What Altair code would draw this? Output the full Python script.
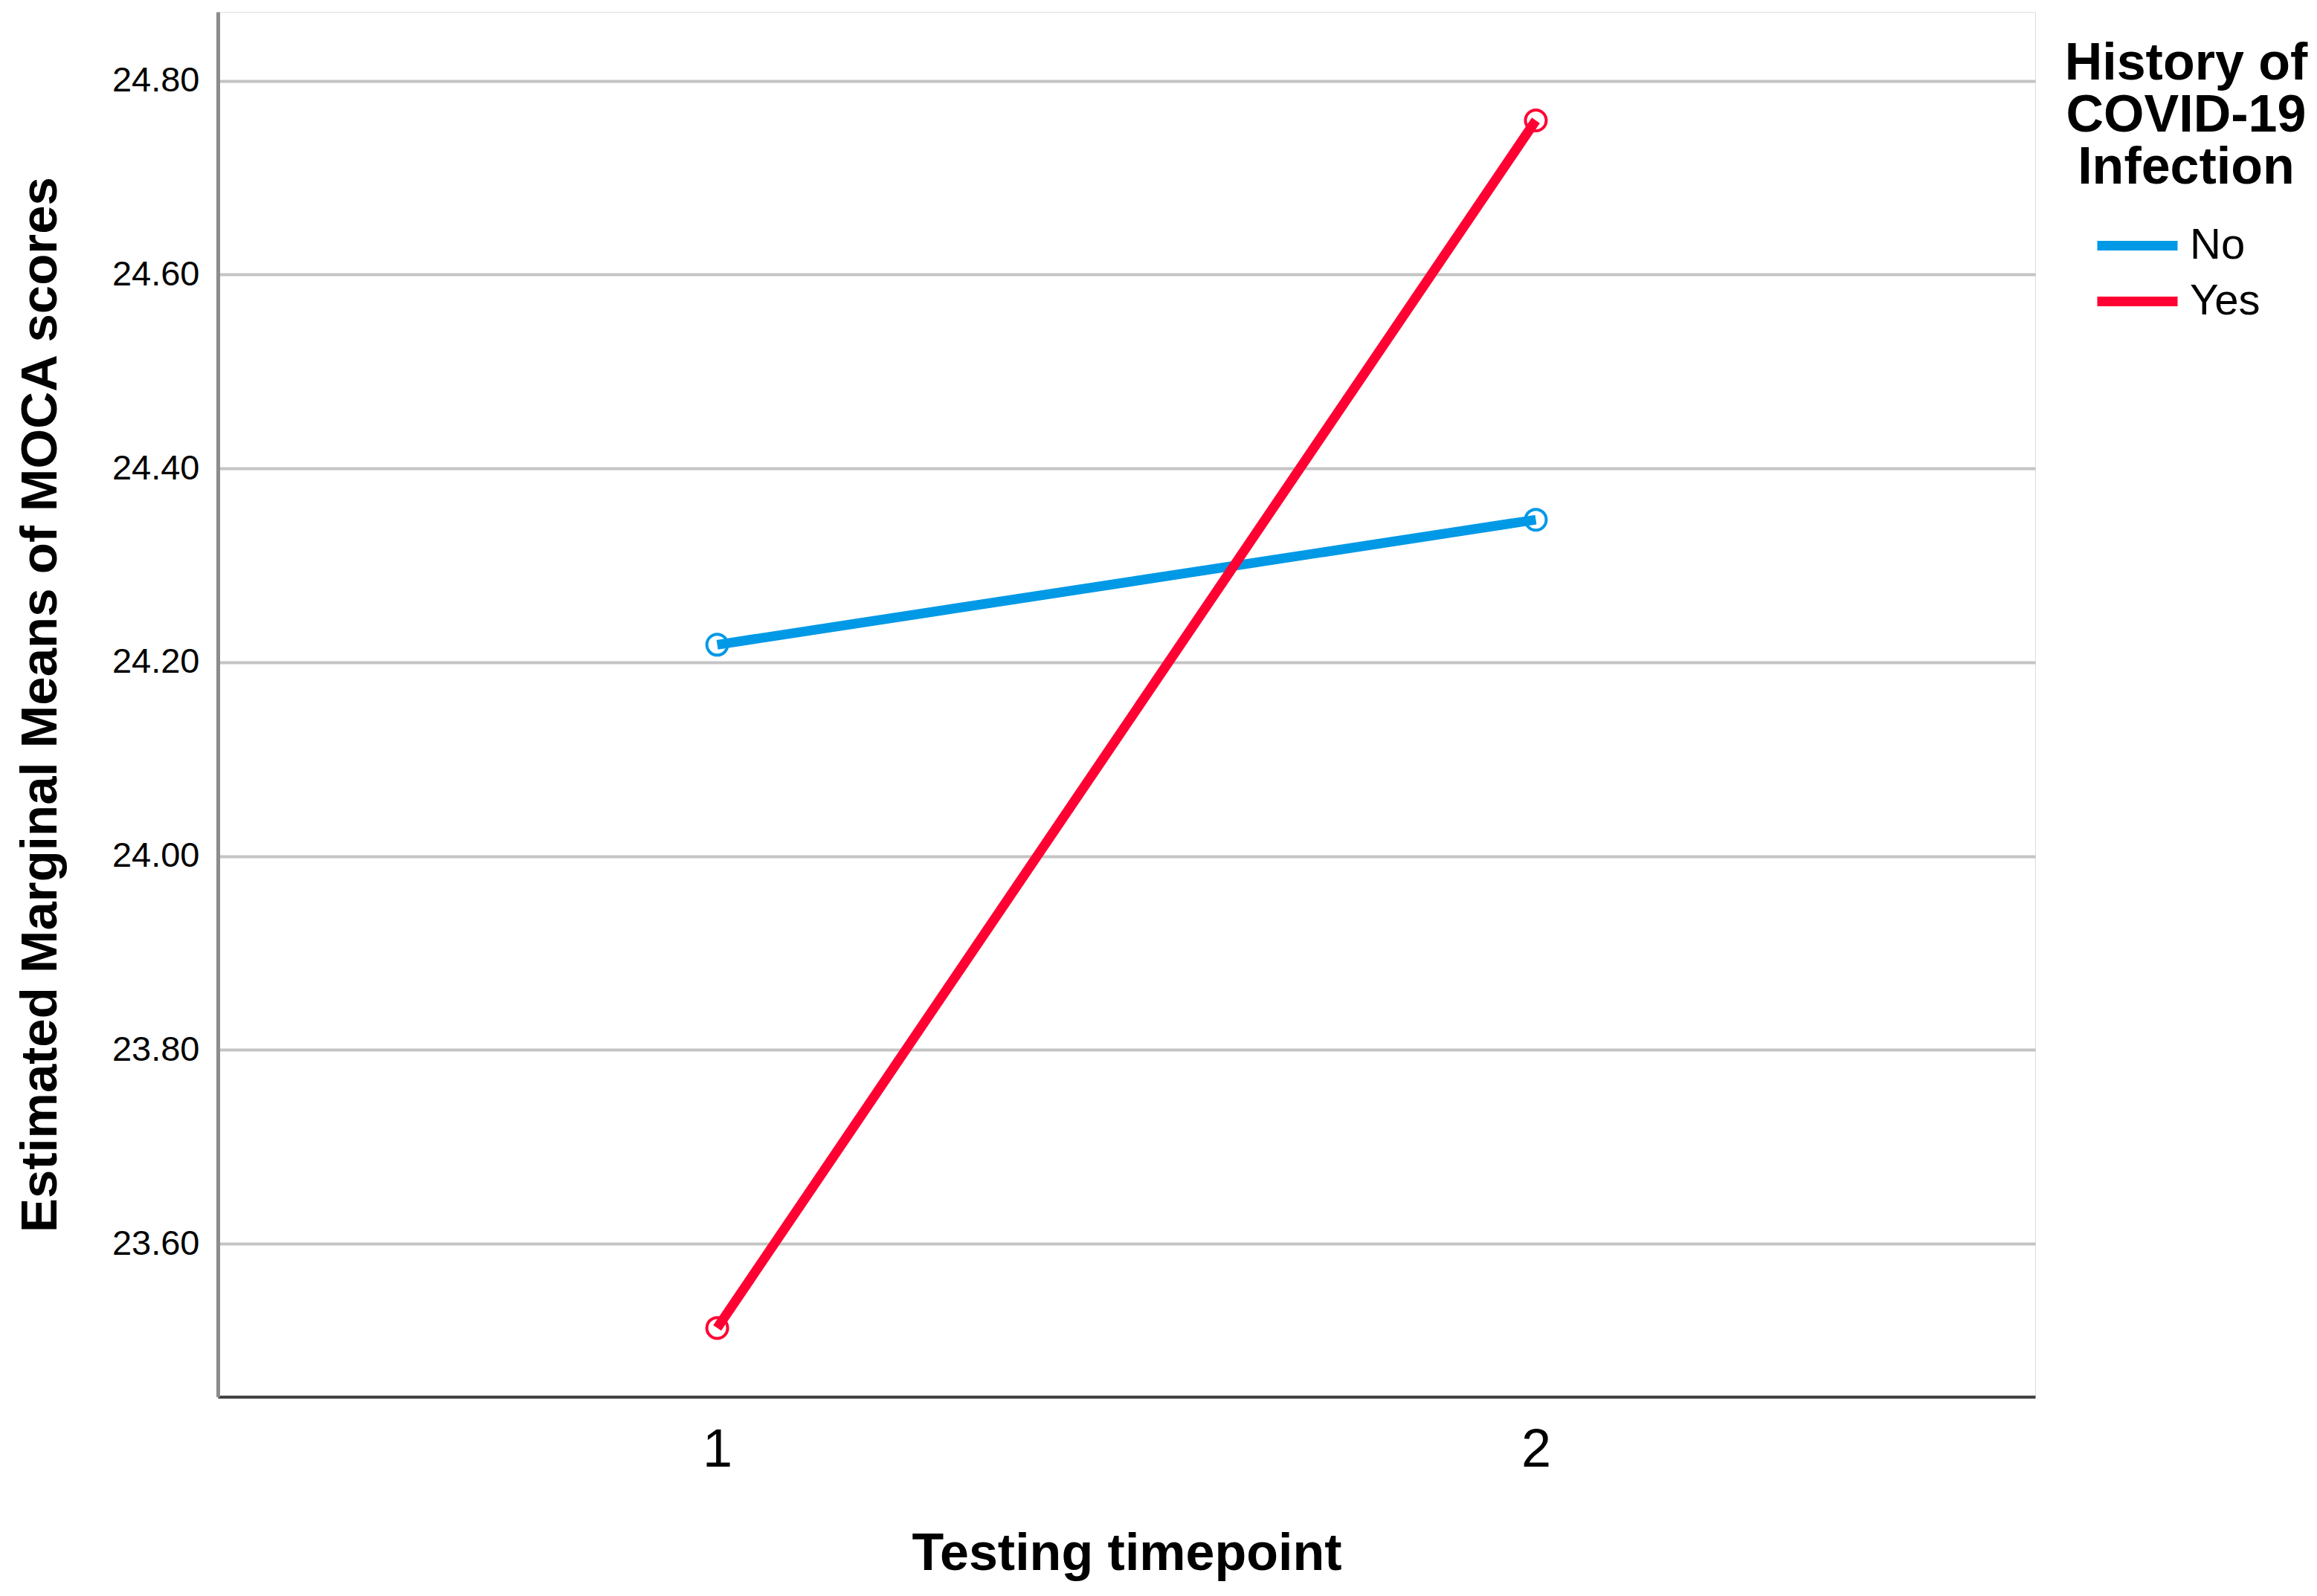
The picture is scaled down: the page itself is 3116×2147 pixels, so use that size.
import altair as alt
import pandas as pd

timepoints = [1, 2]
groups = ["No", "Yes"]
no_means = [24.218, 24.347]
yes_means = [23.513, 24.759]
y_ticks = [23.60, 23.80, 24.00, 24.20, 24.40, 24.60, 24.80]
x_ticks = [1, 2]
colors = ["#0099E6", "#FF0033"]

rows = []
for g, vals in zip(groups, [no_means, yes_means]):
    for t, v in zip(timepoints, vals):
        rows.append({"Testing timepoint": t, "group": g, "mean": v})
df = pd.DataFrame(rows)

FONT = "Liberation Sans"

x_enc = alt.X(
    "Testing timepoint:Q",
    scale=alt.Scale(domain=[0.39, 2.61], nice=False, zero=False),
    axis=alt.Axis(
        values=x_ticks, format="d", grid=False, ticks=False,
        domainColor="#3c3c3c", domainWidth=4,
        labelFontSize=72, labelFont=FONT, labelColor="#000000", labelPadding=36,
        title="Testing timepoint", titleFontSize=70, titleFont=FONT,
        titleFontWeight="bold", titleColor="#000000", titlePadding=70,
    ),
)
y_enc = alt.Y(
    "mean:Q",
    scale=alt.Scale(domain=[23.442, 24.871], nice=False, zero=False),
    axis=alt.Axis(
        values=y_ticks, format=".2f", grid=True, gridColor="#c4c4c4", gridWidth=4,
        ticks=False, domainColor="#8c8c8c", domainWidth=5,
        labelFontSize=47, labelFont=FONT, labelColor="#000000", labelPadding=25,
        title="Estimated Marginal Means of MOCA scores", titleFontSize=69,
        titleFont=FONT, titleFontWeight="bold", titleColor="#000000", titlePadding=61,
    ),
)
color_scale = alt.Scale(domain=groups, range=colors)

lines = alt.Chart(df).mark_line(strokeWidth=13).encode(
    x=x_enc,
    y=y_enc,
    color=alt.Color(
        "group:N", scale=color_scale,
        legend=alt.Legend(
            title=["History of", "COVID-19", "Infection"],
            orient="none", legendX=2484, legendY=36, padding=0,
            titleFontSize=70, titleLineHeight=70, titleFont=FONT,
            titleFontWeight="bold", titleColor="#000000", titleLimit=1000,
            titleAlign="center", titleAnchor="middle", titlePadding=35,
            labelFontSize=58, labelFont=FONT, labelColor="#000000", labelLimit=500,
            symbolType="M-2,0H2", symbolSize=2916, symbolStrokeWidth=13,
            symbolOffset=0, rowPadding=12, labelOffset=37,
        ),
    ),
)
points = alt.Chart(df).mark_point(filled=False, size=784, strokeWidth=4, opacity=1).encode(
    x="Testing timepoint:Q",
    y="mean:Q",
    color=alt.Color("group:N", scale=color_scale, legend=None),
)

chart = (
    alt.layer(lines, points)
    .properties(
        width=2444, height=1863,
        autosize=alt.AutoSizeParams(type="none"),
        padding={"left": 285, "top": 8, "right": 370, "bottom": 250},
    )
    .configure_view(stroke="transparent", strokeWidth=0, strokeOpacity=0)
    .configure(background="white")
)

chart.save("out.html", embed_options={"renderer": "svg", "actions": False})
